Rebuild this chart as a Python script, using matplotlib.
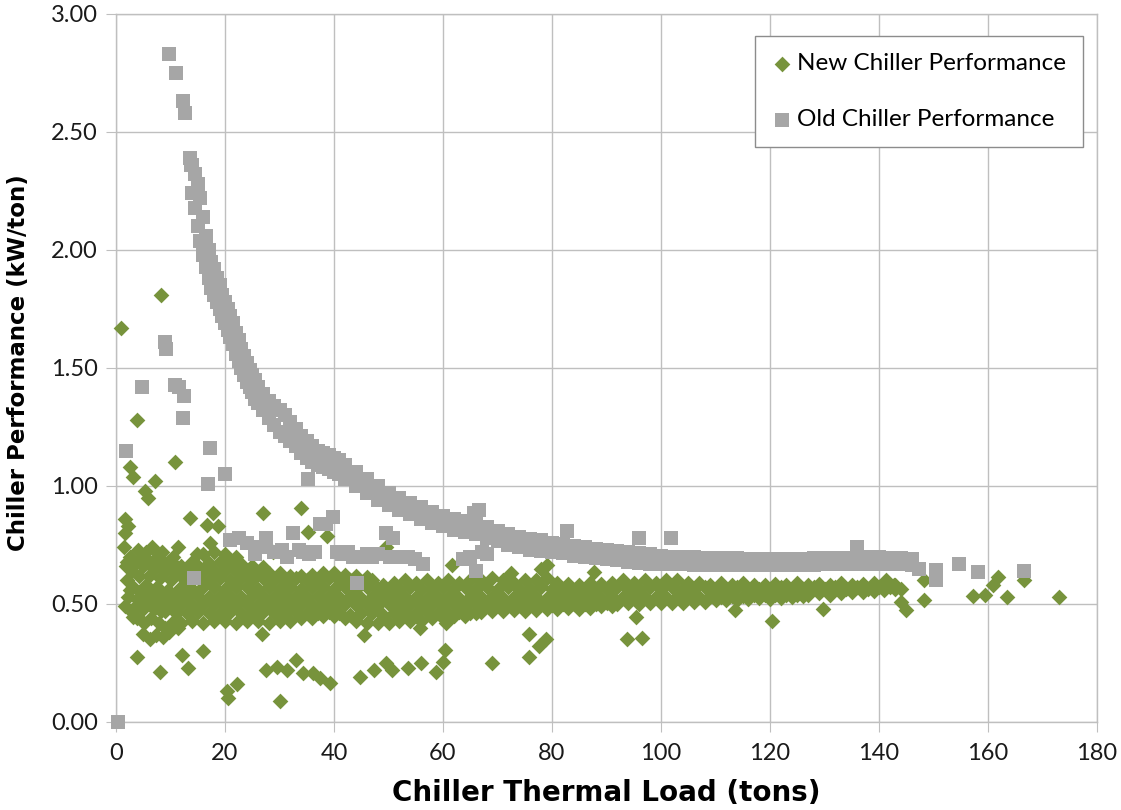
import matplotlib.pyplot as plt

# ---- data ----
# dense band of the new chiller, drawn as staggered rows of points
band_x_even = [12, 14, 16, 18, 20, 22, 24, 26, 28, 30, 32, 34, 36, 38, 40, 42, 44, 46, 48, 50,
               52, 54, 56, 58, 60, 62, 64, 66, 68, 70, 72, 74, 76, 78, 80, 82, 84, 86, 88, 90,
               92, 94, 96, 98, 100, 102, 104, 106, 108, 110, 112, 114, 116, 118, 120, 122, 124,
               126, 128, 130, 132, 134, 136, 138, 140, 142, 144]
band_x_odd = [13, 15, 17, 19, 21, 23, 25, 27, 29, 31, 33, 35, 37, 39, 41, 43, 45, 47, 49, 51,
              53, 55, 57, 59, 61, 63, 65, 67, 69, 71, 73, 75, 77, 79, 81, 83, 85, 87, 89, 91,
              93, 95, 97, 99, 101, 103, 105, 107, 109, 111, 113, 115, 117, 119, 121, 123, 125,
              127, 129, 131, 133, 135, 137, 139, 141, 143]

new_row_9 = [0.66, 0.68, 0.71, 0.72, 0.71, 0.70]
new_row_8 = [0.64, 0.66, 0.675, 0.68, 0.675, 0.67, 0.66, 0.655]
new_row_7 = [0.62, 0.63, 0.64, 0.64, 0.645, 0.64, 0.64, 0.635, 0.63, 0.63, 0.62, 0.62, 0.625,
             0.63, 0.63, 0.625, 0.62, 0.615]
new_row_6 = [0.60, 0.61, 0.60, 0.61, 0.60, 0.61, 0.60, 0.61, 0.60, 0.60, 0.61, 0.60, 0.60, 0.61,
             0.60, 0.60, 0.59, 0.60, 0.58, 0.59, 0.60, 0.59, 0.60, 0.59, 0.60, 0.59, 0.60, 0.60,
             0.61, 0.60, 0.59, 0.60, 0.60, 0.61, 0.59, 0.585, 0.58, 0.59, 0.585, 0.59, 0.60, 0.59,
             0.60, 0.59, 0.60, 0.60, 0.59, 0.59, 0.58, 0.59, 0.58, 0.59, 0.58, 0.58, 0.585, 0.58,
             0.59, 0.58, 0.585, 0.58, 0.59, 0.58, 0.585, 0.59, 0.58, 0.58]
new_row_5 = [0.57, 0.565, 0.57, 0.57, 0.565, 0.57, 0.57, 0.565, 0.57, 0.565, 0.57, 0.565, 0.57,
             0.57, 0.565, 0.57, 0.565, 0.57, 0.565, 0.56, 0.565, 0.57, 0.565, 0.565, 0.57, 0.565,
             0.57, 0.565, 0.57, 0.565, 0.57, 0.565, 0.565, 0.57, 0.565, 0.565, 0.56, 0.565, 0.565,
             0.565, 0.57, 0.565, 0.565, 0.57, 0.565, 0.57, 0.565, 0.565, 0.57, 0.565, 0.565,
             0.57, 0.565, 0.565, 0.565, 0.57, 0.565, 0.565, 0.57, 0.565, 0.57, 0.565, 0.57,
             0.565, 0.57, 0.57, 0.565]
new_row_4 = [0.535, 0.535, 0.53, 0.535, 0.535, 0.53, 0.535, 0.535, 0.53, 0.535, 0.535, 0.53,
             0.535, 0.535, 0.53, 0.53, 0.525, 0.53, 0.53, 0.525, 0.53, 0.53, 0.525, 0.53, 0.53,
             0.525, 0.53, 0.53, 0.53, 0.525, 0.53, 0.53, 0.53, 0.525, 0.53, 0.53, 0.53, 0.53,
             0.525, 0.53, 0.53, 0.53, 0.53, 0.53, 0.53, 0.53, 0.53, 0.53, 0.535, 0.53, 0.535,
             0.535, 0.54, 0.54, 0.54, 0.54, 0.54, 0.54, 0.545, 0.54, 0.545, 0.55, 0.55, 0.555,
             0.56, 0.565]
new_row_3 = [0.50, 0.495, 0.50, 0.50, 0.495, 0.50, 0.50, 0.495, 0.50, 0.495, 0.50, 0.50, 0.495,
             0.50, 0.495, 0.50, 0.495, 0.50, 0.495, 0.50, 0.495, 0.50, 0.495, 0.50, 0.495, 0.50,
             0.495, 0.50, 0.495, 0.50, 0.50, 0.495, 0.50, 0.50, 0.495, 0.50, 0.50, 0.50, 0.50,
             0.505, 0.50, 0.505, 0.50, 0.505, 0.505, 0.505, 0.505, 0.51, 0.51, 0.515, 0.515,
             0.515, 0.52, 0.525, 0.52, 0.525, 0.53, 0.535]
new_row_2 = [0.46, 0.465, 0.46, 0.46, 0.465, 0.46, 0.46, 0.465, 0.46, 0.46, 0.465, 0.46, 0.46,
             0.465, 0.46, 0.455, 0.46, 0.46, 0.455, 0.46, 0.46, 0.46, 0.465, 0.46, 0.46, 0.465,
             0.46, 0.465, 0.47, 0.47, 0.475, 0.47, 0.475, 0.48, 0.48, 0.485, 0.48, 0.485, 0.49,
             0.49]
new_row_1 = [0.42, 0.43, 0.42, 0.43, 0.43, 0.42, 0.43, 0.43, 0.42, 0.43, 0.43, 0.44, 0.44, 0.45,
             0.45, 0.44, 0.43, 0.42, 0.42, 0.42, 0.43, 0.43, 0.43, 0.44, 0.44, 0.45, 0.45, 0.46]

# loose cluster of the new chiller at very low load
new_blob_x = [1.5, 2.5, 1.8, 3.0, 2.0, 3.2, 2.2, 1.6, 2.8, 4.0, 4.6, 5.5, 6.6, 7.5, 8.5, 9.5,
              10.5, 4.2, 5.0, 6.0, 7.0, 8.0, 9.0, 10.0, 11.0, 4.5, 5.5, 6.5, 7.5, 8.5, 9.5, 10.5,
              11.5, 4.0, 5.0, 6.0, 7.0, 8.0, 9.0, 10.0, 11.0, 3.8, 5.2, 6.5, 7.8, 9.0, 10.2, 11.4,
              5.0, 6.2, 7.4, 8.6, 9.8, 3.1, 2.0, 3.5, 5.0, 6.0, 7.0, 8.0, 9.0, 10.0, 11.0, 2.5,
              3.8, 5.5, 6.8, 8.2, 9.5, 10.8]
new_blob_y = [0.74, 0.70, 0.66, 0.64, 0.60, 0.57, 0.53, 0.49, 0.47, 0.73, 0.69, 0.72, 0.74, 0.70,
              0.72, 0.68, 0.70, 0.62, 0.66, 0.62, 0.65, 0.61, 0.64, 0.60, 0.63, 0.55, 0.58, 0.55,
              0.57, 0.54, 0.56, 0.53, 0.56, 0.50, 0.48, 0.51, 0.48, 0.50, 0.47, 0.49, 0.46, 0.44,
              0.42, 0.44, 0.42, 0.40, 0.42, 0.40, 0.375, 0.35, 0.37, 0.36, 0.38, 0.445, 0.68,
              0.67, 0.69, 0.68, 0.68, 0.67, 0.67, 0.66, 0.66, 0.56, 0.52, 0.52, 0.52, 0.47, 0.52,
              0.50]

# scattered new chiller points away from the band
new_out_x = [0.9, 8.2, 3.8, 10.8, 2.6, 3.1, 7.1, 5.3, 5.9, 1.6, 2.2, 1.6, 13.6, 17.8, 16.7, 18.7,
             27.0, 34.0, 35.2, 38.8, 11.4, 14.8, 17.2, 28.8, 49.6, 61.7, 72.5, 78.0, 79.0, 87.7,
             3.8, 8.1, 12.1, 13.2, 16.0, 20.3, 20.6, 22.2, 30.0, 26.7, 27.6, 29.5, 31.3, 33.1,
             34.3, 36.1, 37.4, 39.2, 44.7, 47.4, 49.6, 50.7, 53.5, 56.0, 58.8, 60.0, 60.3, 68.9,
             75.8, 75.8, 77.6, 78.9, 95.4, 93.8, 96.5, 113.6, 120.3, 129.8, 45.5, 55.7, 60.6,
             137.5, 139.4, 141.2, 142.7, 144.1, 145.0, 148.2, 148.2, 157.3, 159.5, 161.0, 161.9,
             163.5, 166.6, 173.1]
new_out_y = [1.67, 1.81, 1.28, 1.10, 1.08, 1.04, 1.02, 0.98, 0.95, 0.86, 0.83, 0.80, 0.865, 0.885,
             0.835, 0.83, 0.885, 0.905, 0.805, 0.79, 0.74, 0.71, 0.76, 0.72, 0.74, 0.665, 0.63,
             0.65, 0.665, 0.635, 0.275, 0.21, 0.285, 0.23, 0.30, 0.13, 0.10, 0.16, 0.09, 0.375,
             0.22, 0.233, 0.22, 0.263, 0.208, 0.208, 0.186, 0.165, 0.19, 0.22, 0.25, 0.22, 0.23,
             0.25, 0.21, 0.255, 0.305, 0.25, 0.375, 0.275, 0.32, 0.35, 0.445, 0.35, 0.355, 0.475,
             0.43, 0.48, 0.37, 0.40, 0.42, 0.57, 0.57, 0.60, 0.58, 0.51, 0.475, 0.60, 0.515,
             0.535, 0.54, 0.58, 0.615, 0.53, 0.60, 0.53]

# old chiller main curve, upper and lower edge of the thick trace
old_curve_x = [14.0, 14.5, 15.0, 15.5, 16.0, 16.5, 17.0, 17.5, 18.0, 18.5, 19.0, 19.5, 20.0,
               20.5, 21.0, 21.5, 22.0, 22.5, 23.0, 23.5, 24.0, 24.5, 25.0, 25.5, 26.0, 27, 28,
               29, 30, 31, 32, 33, 34, 35, 36, 37, 38, 39, 40, 41, 42, 44, 46, 48, 50, 52, 54,
               56, 58, 60, 62, 64, 66, 68, 70, 72, 74, 76, 78, 80, 82, 84, 86, 88, 90, 92, 94,
               96, 98, 100, 102, 104, 106, 108, 110, 112, 114, 116, 118, 120, 122, 124, 126, 128,
               130, 132, 134, 136, 138, 140, 142, 144, 146]
old_curve_hi = [2.36, 2.32, 2.28, 2.22, 2.14, 2.06, 2.00, 1.95, 1.92, 1.88, 1.85, 1.81, 1.78,
                1.75, 1.72, 1.69, 1.65, 1.62, 1.58, 1.55, 1.52, 1.49, 1.47, 1.45, 1.42, 1.39,
                1.36, 1.34, 1.32, 1.30, 1.27, 1.24, 1.21, 1.19, 1.17, 1.15, 1.14, 1.13, 1.12,
                1.11, 1.09, 1.06, 1.03, 1.00, 0.97, 0.95, 0.93, 0.91, 0.89, 0.875, 0.86, 0.85,
                0.84, 0.825, 0.81, 0.795, 0.785, 0.775, 0.77, 0.76, 0.755, 0.745, 0.74, 0.735,
                0.73, 0.725, 0.72, 0.715, 0.71, 0.705, 0.70, 0.70, 0.70, 0.695, 0.695, 0.695,
                0.695, 0.69, 0.69, 0.69, 0.69, 0.69, 0.69, 0.695, 0.695, 0.695, 0.695, 0.70,
                0.70, 0.70, 0.695, 0.695, 0.69]
old_curve_lo = [2.24, 2.18, 2.10, 2.04, 1.98, 1.93, 1.88, 1.84, 1.81, 1.78, 1.75, 1.72, 1.69,
                1.66, 1.63, 1.60, 1.56, 1.53, 1.50, 1.47, 1.44, 1.42, 1.40, 1.37, 1.35, 1.32,
                1.29, 1.26, 1.23, 1.21, 1.19, 1.17, 1.14, 1.12, 1.10, 1.09, 1.08, 1.07, 1.06,
                1.05, 1.03, 1.00, 0.97, 0.94, 0.92, 0.90, 0.88, 0.86, 0.845, 0.83, 0.815, 0.805,
                0.795, 0.78, 0.765, 0.75, 0.74, 0.73, 0.725, 0.72, 0.715, 0.705, 0.70, 0.695,
                0.69, 0.685, 0.68, 0.675, 0.67, 0.67, 0.67, 0.67, 0.665, 0.665, 0.665, 0.665,
                0.665, 0.665, 0.665, 0.665, 0.665, 0.665, 0.665, 0.665, 0.67, 0.67, 0.67, 0.67,
                0.67, 0.67, 0.67, 0.67, 0.665]

# old chiller lower branch around 0.7 kW/ton
old_low_x = [21.0, 22.5, 24.0, 25.5, 26.5, 27.6, 29.0, 30.5, 31.3, 32.5, 33.5, 34.3, 35.5, 36.5,
             37.4, 38.6, 39.8, 40.5, 41.5, 42.5, 43.5, 45.0, 46.0, 47.0, 48.0, 49.6, 50.2, 50.8,
             52.0, 53.5, 54.8, 56.3, 63.6, 65.0, 66.1, 67.2, 68.0]
old_low_y = [0.77, 0.78, 0.76, 0.71, 0.74, 0.78, 0.72, 0.73, 0.70, 0.80, 0.73, 0.72, 0.71, 0.72,
             0.84, 0.84, 0.87, 0.72, 0.71, 0.72, 0.70, 0.70, 0.71, 0.70, 0.71, 0.80, 0.70, 0.78,
             0.70, 0.70, 0.69, 0.67, 0.69, 0.70, 0.64, 0.72, 0.71]

# old chiller isolated points and bumps
old_out_x = [0.3, 1.8, 4.8, 9.0, 9.2, 10.8, 11.6, 12.4, 12.3, 9.7, 11.1, 12.3, 12.6, 13.6, 13.8,
             17.2, 16.9, 20.0, 14.4, 35.2, 44.3, 65.6, 66.6, 82.7, 96.0, 101.8, 136.0, 147.4,
             150.5, 150.5, 154.6, 158.2, 166.6]
old_out_y = [0.00, 1.15, 1.42, 1.61, 1.58, 1.43, 1.42, 1.38, 1.29, 2.83, 2.75, 2.63, 2.58, 2.39,
             2.36, 1.16, 1.01, 1.05, 0.61, 1.03, 0.59, 0.885, 0.90, 0.81, 0.78, 0.78, 0.74, 0.65,
             0.645, 0.60, 0.67, 0.635, 0.64]

x_ticks = [0, 20, 40, 60, 80, 100, 120, 140, 160, 180]
y_ticks = [0.0, 0.5, 1.0, 1.5, 2.0, 2.5, 3.0]

GREEN = '#77933C'
GREY = '#A6A6A6'

plt.rcParams['font.family'] = ['Lato', 'DejaVu Sans']

fig = plt.figure(figsize=(11.21, 8.10), dpi=100)
ax = fig.add_axes([116 / 1121, 88 / 810, 981 / 1121, 708 / 810])

new_kw = dict(marker='D', s=64, color=GREEN, linewidths=0, clip_on=False, zorder=3)
old_kw = dict(marker='s', s=116, color=GREY, linewidths=0, clip_on=False, zorder=4)

rows_even = [new_row_9, new_row_7, new_row_5, new_row_3, new_row_1]
rows_odd = [new_row_8, new_row_6, new_row_4, new_row_2]
for row in rows_even:
    ax.scatter(band_x_even[:len(row)], row, **new_kw)
for row in rows_odd:
    ax.scatter(band_x_odd[:len(row)], row, **new_kw)
ax.scatter(new_blob_x, new_blob_y, **new_kw)
ax.scatter(new_out_x, new_out_y, label='New Chiller Performance', **new_kw)

ax.scatter(old_curve_x, old_curve_hi, **old_kw)
ax.scatter(old_curve_x, old_curve_lo, **old_kw)
ax.scatter(old_low_x, old_low_y, **old_kw)
ax.scatter(old_out_x, old_out_y, label='Old Chiller Performance', **old_kw)

ax.set_xlim(0, 180)
ax.set_ylim(0, 3)
ax.set_xticks(x_ticks)
ax.set_yticks(y_ticks)
ax.set_yticklabels(['%.2f' % v for v in y_ticks])
ax.grid(True, color='#BFBFBF', linewidth=1)
ax.set_axisbelow(True)
for sp in ax.spines.values():
    sp.set_color('#BFBFBF')
    sp.set_linewidth(1)
ax.tick_params(direction='out', length=7, color='#BFBFBF', labelsize=17,
               labelcolor='#1a1a1a', pad=6)
ax.tick_params(axis='x', pad=8)

label_font = ['DejaVu Sans']
ax.set_xlabel('Chiller Thermal Load (tons)', fontsize=20, fontweight='bold',
              family=label_font, va='top')
ax.xaxis.set_label_coords(0.5, -0.081)
ax.set_ylabel('Chiller Performance (kW/ton)', fontsize=16.5, fontweight='bold',
              family=label_font)
ax.yaxis.set_label_coords(-0.088, 0.507)

leg = ax.legend(loc='upper right', bbox_to_anchor=(1083 / 1121, 774 / 810),
                bbox_transform=fig.transFigure, borderaxespad=0, fontsize=17.5,
                frameon=True, fancybox=False, framealpha=1, edgecolor='#8C8C8C',
                labelspacing=1.45, handlelength=0.8, handletextpad=0.22, borderpad=0.7)
leg.get_frame().set_linewidth(1)

fig.savefig('out.png', dpi=100)
